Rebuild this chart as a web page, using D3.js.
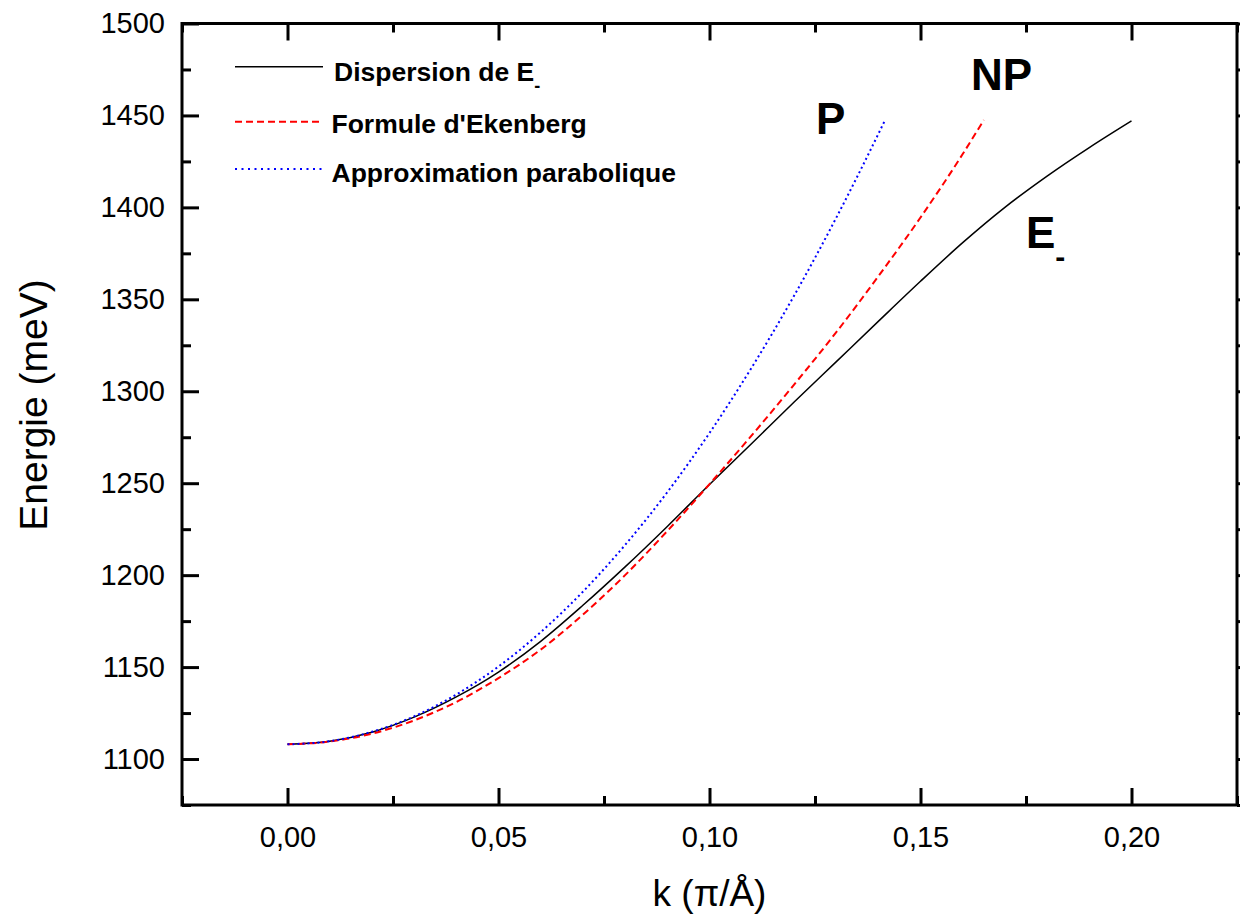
<!DOCTYPE html>
<html>
<head>
<meta charset="utf-8">
<script src="https://cdn.jsdelivr.net/npm/d3@7"></script>
<style>
  html, body { margin: 0; padding: 0; background: #fff; }
  svg { display: block; font-family: Arial, "Liberation Sans", sans-serif; }
</style>
</head>
<body>
<svg id="chart" width="1247" height="917"></svg>
<script>
// ---- data ----
const kDispersion = [0, 0.01, 0.02, 0.03, 0.04, 0.05, 0.06, 0.07, 0.08, 0.09, 0.10, 0.11, 0.12, 0.13, 0.14, 0.15, 0.16, 0.17, 0.18, 0.19, 0.20];
const eDispersion = [1108, 1109.7, 1114.6, 1122.8, 1133.8, 1147.3, 1164, 1183.6, 1204.5, 1226.5, 1249.3, 1271.6, 1294, 1316, 1338, 1359.8, 1380.8, 1400, 1417, 1432.5, 1447];

const kEkenberg = [0, 0.01, 0.02, 0.03, 0.04, 0.05, 0.06, 0.07, 0.08, 0.09, 0.10, 0.11, 0.12, 0.13, 0.14, 0.15, 0.16, 0.165];
const eEkenberg = [1108, 1109.5, 1113.8, 1121, 1131, 1144, 1159.5, 1178.5, 1200, 1224, 1249.5, 1276, 1303.5, 1332, 1362.5, 1394.5, 1429, 1447.5];

const kParabolic = [0, 0.01, 0.02, 0.03, 0.04, 0.05, 0.06, 0.07, 0.08, 0.09, 0.10, 0.11, 0.12, 0.13, 0.14, 0.1415];
const eParabolic = [1108, 1109.7, 1114.8, 1123.2, 1135.1, 1150.3, 1169, 1191, 1216.4, 1245.1, 1277.3, 1312.9, 1351.8, 1394.2, 1439.9, 1447];

const xMajorTicks = [0, 0.05, 0.10, 0.15, 0.20];
const xMinorTicks = [-0.025, 0.025, 0.075, 0.125, 0.175, 0.225];
const yMajorTicks = [1100, 1150, 1200, 1250, 1300, 1350, 1400, 1450, 1500];
const yMinorTicks = [1075, 1125, 1175, 1225, 1275, 1325, 1375, 1425, 1475];

const legendLabels = ["Dispersion de E", "Formule d'Ekenberg", "Approximation parabolique"];
const xTitle = "k (\u03C0/\u00C5)";
const yTitle = "Energie (meV)";

// ---- layout ----
const svg = d3.select("#chart");
const mLeft = 182, mRight = 1237, mTop = 23.5, mBottom = 805;

const x = d3.scaleLinear().domain([-0.025, 0.225]).range([mLeft, mRight]);
const y = d3.scaleLinear().domain([1075, 1500]).range([mBottom, mTop]);

const fmtX = d => d3.format(".2f")(d).replace(".", ",");

function styleAxis(g, w) {
  g.select(".domain").remove();
  g.selectAll(".tick line").attr("stroke", "#000").attr("stroke-width", w);
  g.selectAll(".tick text").attr("fill", "#000").attr("font-size", 29).attr("font-family", "Arial, 'Liberation Sans', sans-serif");
}

// bottom axis
svg.append("g").attr("transform", `translate(0,${mBottom})`)
  .call(d3.axisBottom(x).tickValues(xMajorTicks).tickSize(-17).tickPadding(21).tickFormat(fmtX))
  .call(g => styleAxis(g, 3));
svg.append("g").attr("transform", `translate(0,${mBottom})`)
  .call(d3.axisBottom(x).tickValues(xMinorTicks).tickSize(-9).tickFormat(""))
  .call(g => styleAxis(g, 3));
// top axis
svg.append("g").attr("transform", `translate(0,${mTop})`)
  .call(d3.axisTop(x).tickValues(xMajorTicks).tickSize(-17).tickFormat(""))
  .call(g => styleAxis(g, 3));
svg.append("g").attr("transform", `translate(0,${mTop})`)
  .call(d3.axisTop(x).tickValues(xMinorTicks).tickSize(-9).tickFormat(""))
  .call(g => styleAxis(g, 3));
// left axis
svg.append("g").attr("transform", `translate(${mLeft},0)`)
  .call(d3.axisLeft(y).tickValues(yMajorTicks).tickSize(-17).tickPadding(17).tickFormat(d3.format("d")))
  .call(g => styleAxis(g, 3));
svg.append("g").attr("transform", `translate(${mLeft},0)`)
  .call(d3.axisLeft(y).tickValues(yMinorTicks).tickSize(-9).tickFormat(""))
  .call(g => styleAxis(g, 3));
// right axis (tiny ticks)
svg.append("g").attr("transform", `translate(${mRight},0)`)
  .call(d3.axisRight(y).tickValues(yMajorTicks.concat(yMinorTicks)).tickSize(3).tickFormat(""))
  .call(g => styleAxis(g, 3));

// frame
svg.append("rect").attr("x", mLeft).attr("y", mTop).attr("width", mRight - mLeft).attr("height", mBottom - mTop)
  .attr("fill", "none").attr("stroke", "#000").attr("stroke-width", 3);

// curves
const line = d3.line().x(d => x(d[0])).y(d => y(d[1])).curve(d3.curveMonotoneX);
const series = [
  { k: kDispersion, e: eDispersion, color: "#000", width: 1.5, dash: null },
  { k: kEkenberg, e: eEkenberg, color: "#ff0000", width: 2, dash: "7,4" },
  { k: kParabolic, e: eParabolic, color: "#0000ff", width: 2, dash: "2,3" }
];
series.forEach(s => {
  svg.append("path").datum(s.k.map((k, i) => [k, s.e[i]]))
    .attr("d", line).attr("fill", "none").attr("stroke", s.color)
    .attr("stroke-width", s.width).attr("stroke-dasharray", s.dash);
});

// legend
const legY = [66.7, 121.7, 169];
const legBase = [80.7, 133.3, 181.7];
const legTextX = [334, 331.5, 331.5];
const legDash = [null, "7,4", "2,4.5"];
series.forEach((s, i) => {
  svg.append("line").attr("x1", 235).attr("x2", 323).attr("y1", legY[i]).attr("y2", legY[i])
    .attr("stroke", s.color).attr("stroke-width", s.width).attr("stroke-dasharray", legDash[i]);
  const t = svg.append("text").attr("x", legTextX[i]).attr("y", legBase[i])
    .attr("font-size", 26.5).attr("font-weight", "bold").attr("fill", "#000").text(legendLabels[i]);
  if (i === 0) {
    t.append("tspan").attr("font-size", 18).attr("dy", 11).text("-");
  }
});

// curve labels
svg.append("text").attr("x", 816).attr("y", 134.3).attr("font-size", 44).attr("font-weight", "bold").text("P");
svg.append("text").attr("x", 971).attr("y", 90).attr("font-size", 44).attr("font-weight", "bold").text("NP");
const eLab = svg.append("text").attr("x", 1026).attr("y", 247.7).attr("font-size", 44).attr("font-weight", "bold").text("E");
eLab.append("tspan").attr("font-size", 30).attr("dy", 19).text("-");

// axis titles
svg.append("text").attr("x", (mLeft + mRight) / 2).attr("y", 906).attr("text-anchor", "middle")
  .attr("font-size", 37).attr("fill", "#000").text(xTitle);
svg.append("text").attr("transform", `translate(47,405) rotate(-90)`)
  .attr("text-anchor", "middle").attr("font-size", 39).attr("fill", "#000").text(yTitle);
</script>
</body>
</html>
